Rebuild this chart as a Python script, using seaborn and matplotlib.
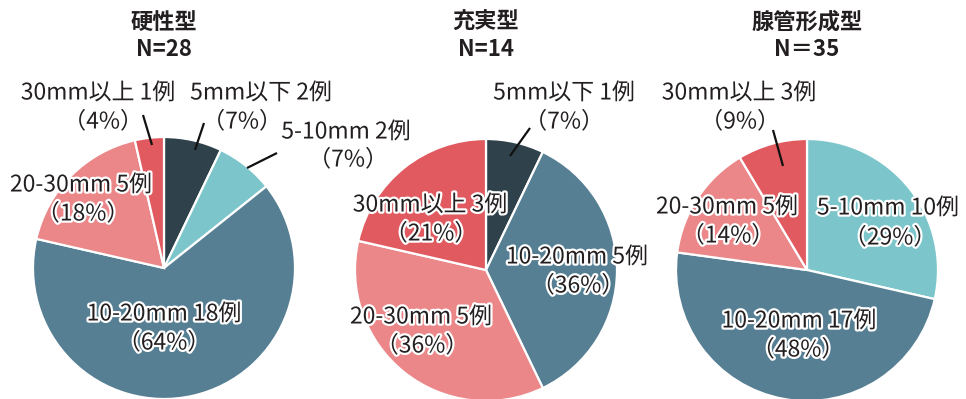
import matplotlib
matplotlib.use("Agg")
import matplotlib.pyplot as plt
import matplotlib.patheffects as pe
import seaborn as sns

sns.set_theme(style="white")
plt.rcParams["font.family"] = ["Noto Sans CJK JP", "DejaVu Sans"]

# ---- data -------------------------------------------------------------
categories = ["5mm以下", "5-10mm", "10-20mm", "20-30mm", "30mm以上"]
types = ["硬性型", "充実型", "腺管形成型"]
n_labels = ["N=28", "N=14", "N＝35"]
counts_hard = [2, 2, 18, 5, 1]
counts_solid = [1, 0, 5, 5, 3]
counts_tubular = [0, 10, 17, 5, 3]
pct_hard = [7, 7, 64, 18, 4]
pct_solid = [7, 0, 36, 36, 21]
pct_tubular = [0, 29, 48, 14, 9]

colors = ["#2f424c", "#7cc6cb", "#567f94", "#eb8789", "#e05a60"]
text_color = "#231f20"

# ---- layout (pixels of the 966x399 canvas) ----------------------------
W, H, R = 966, 399, 131
centers = [(164, 268), (486, 270), (807, 270)]
# per category: (line1 xy, line2 xy, leader line start/end or None)
label_layout = [
    {
        0: ((261, 93), (242, 122), ((204, 123), (195, 150))),
        1: ((346, 132), (348, 160), ((277, 153), (247, 168))),
        2: ((164, 314), (164, 343), None),
        3: ((81, 185), (83, 214), None),
        4: ((98, 93), (103, 122), ((143, 115), (152, 145))),
    },
    {
        0: ((564, 93), (564, 122), ((530, 128), (510, 156))),
        2: ((577, 257), (578, 286), None),
        3: ((421, 317), (422, 346), None),
        4: ((430, 205), (431, 234), None),
    },
    {
        1: ((888, 208), (890, 238), None),
        2: ((799, 321), (798, 350), None),
        3: ((727, 207), (728, 236), None),
        4: ((739, 93), (740, 122), ((773, 130), (783, 166))),
    },
]

all_counts = [counts_hard, counts_solid, counts_tubular]
all_pcts = [pct_hard, pct_solid, pct_tubular]

fig = plt.figure(figsize=(W / 100, H / 100), dpi=100)
fig.patch.set_facecolor("white")

halo = [pe.withStroke(linewidth=3.2, foreground="white")]

for i, (cx, cy) in enumerate(centers):
    ax = fig.add_axes([0, 0, 1, 1])
    ax.set_facecolor("none")

    def to_data(p, cx=cx, cy=cy):
        return (p[0] - cx) / R, (cy - p[1]) / R

    idx = [k for k, v in enumerate(all_counts[i]) if v > 0]
    vals = [all_counts[i][k] for k in idx]
    cols = [colors[k] for k in idx]
    ax.pie(vals, colors=cols, startangle=90, counterclock=False, radius=1,
           wedgeprops=dict(edgecolor="white", linewidth=1.6))
    ax.set_xlim(-cx / R, (W - cx) / R)
    ax.set_ylim(-(H - cy) / R, cy / R)
    ax.set_aspect("equal")
    ax.axis("off")

    # title
    tx, ty = to_data((cx, 22))
    ax.text(tx, ty, types[i], ha="center", va="center", fontsize=16,
            fontweight="bold", color=text_color)
    tx, ty = to_data((cx, 50))
    ax.text(tx, ty, n_labels[i], ha="center", va="center", fontsize=16,
            fontweight="bold", color=text_color)

    for k, (p1, p2, leader) in label_layout[i].items():
        line1 = f"{categories[k]} {all_counts[i][k]}例"
        line2 = f"（{all_pcts[i][k]}%）"
        x1, y1 = to_data(p1)
        x2, y2 = to_data(p2)
        ax.text(x1, y1, line1, ha="center", va="center", fontsize=16.5,
                color=text_color, path_effects=halo)
        ax.text(x2, y2, line2, ha="center", va="center", fontsize=16.5,
                color=text_color, path_effects=halo)
        if leader is not None:
            (a, b) = to_data(leader[0])
            (c, d) = to_data(leader[1])
            ax.plot([a, c], [b, d], color="#111111", linewidth=1.6,
                    solid_capstyle="butt")

fig.savefig("out.png", dpi=100, facecolor="white")
